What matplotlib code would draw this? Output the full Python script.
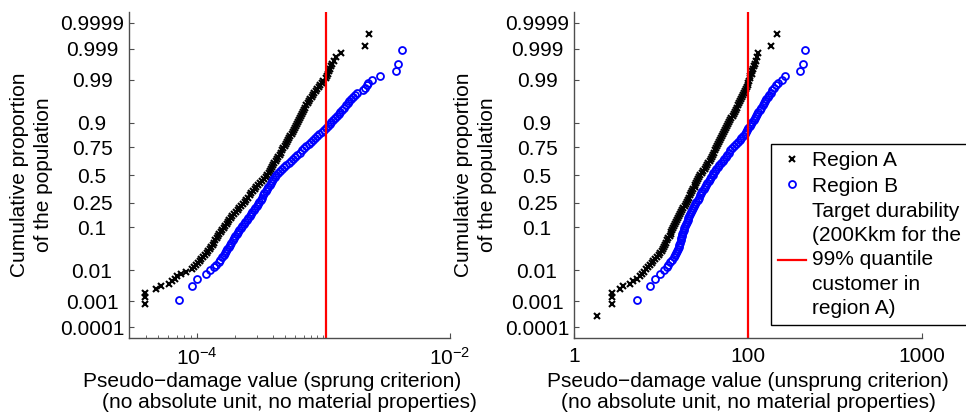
import numpy as np
import matplotlib
matplotlib.use('Agg')
import matplotlib.pyplot as plt
from statistics import NormalDist

plt.rcParams['font.family'] = ['Liberation Sans', 'DejaVu Sans']
plt.rcParams['mathtext.fontset'] = 'custom'
plt.rcParams['mathtext.rm'] = 'Liberation Sans'
plt.rcParams['mathtext.it'] = 'Liberation Sans:italic'
plt.rcParams['mathtext.bf'] = 'Liberation Sans:bold'
plt.rcParams['font.size'] = 15

# cumulative proportion (plotting position) of each plotted customer, region A
P_A = [0.00028, 0.00084, 0.0014, 0.002, 0.0026, 0.0033, 0.0039, 0.0047, 0.0055, 0.0066, 0.0078, 0.0091,
       0.0107, 0.0122, 0.0139, 0.0158, 0.0179, 0.0202, 0.0228, 0.0256, 0.0287, 0.0322,
       0.0359, 0.0401, 0.0446, 0.0495, 0.0548, 0.0606, 0.0668, 0.0735, 0.0808, 0.0885,
       0.0968, 0.1056, 0.1151, 0.1251, 0.1357, 0.1469, 0.1587, 0.1711, 0.1841, 0.1977,
       0.2119, 0.2266, 0.2420, 0.2578, 0.2743, 0.2912, 0.3085, 0.3264, 0.3446, 0.3632,
       0.3821, 0.4013, 0.4207, 0.4404, 0.4602, 0.4801, 0.5, 0.5199, 0.5398, 0.5596,
       0.5793, 0.5987, 0.6179, 0.6368, 0.6554, 0.6736, 0.6915, 0.7088, 0.7257, 0.7422,
       0.7580, 0.7734, 0.7881, 0.8023, 0.8159, 0.8289, 0.8413, 0.8531, 0.8643, 0.8749,
       0.8849, 0.8944, 0.9032, 0.9115, 0.9192, 0.9265, 0.9332, 0.9394, 0.9452, 0.9505,
       0.9554, 0.9599, 0.9641, 0.9678, 0.9713, 0.9744, 0.9772, 0.9798, 0.9821, 0.9842,
       0.9861, 0.9878, 0.9893,
       0.9909, 0.9922, 0.9934, 0.9945, 0.9953, 0.9961, 0.9967, 0.9974, 0.998, 0.9986, 0.99916, 0.99972]

# region B
P_B = [0.0011, 0.0033, 0.0055, 0.0077, 0.0099, 0.0121, 0.0143, 0.0166, 0.0192,
       0.0228, 0.0256, 0.0287, 0.0322, 0.0359, 0.0401, 0.0446, 0.0495, 0.0548, 0.0606,
       0.0668, 0.0735, 0.0808, 0.0885, 0.0968, 0.1056, 0.1151, 0.1251, 0.1357, 0.1469,
       0.1587, 0.1711, 0.1841, 0.1977, 0.2119, 0.2266, 0.2420, 0.2578, 0.2743, 0.2912,
       0.3085, 0.3264, 0.3446, 0.3632, 0.3821, 0.4013, 0.4207, 0.4404, 0.4602, 0.4801,
       0.5, 0.5199, 0.5398, 0.5596, 0.5793, 0.5987, 0.6179, 0.6368, 0.6554, 0.6736,
       0.6915, 0.7088, 0.7257, 0.7422, 0.7580, 0.7734, 0.7881, 0.8023, 0.8159, 0.8289,
       0.8413, 0.8531, 0.8643, 0.8749, 0.8849, 0.8944, 0.9032, 0.9115, 0.9192, 0.9265,
       0.9332, 0.9394, 0.9452, 0.9505, 0.9554, 0.9599, 0.9641, 0.9678, 0.9713, 0.9744,
       0.9772,
       0.9808, 0.9834, 0.9857, 0.9879, 0.9901, 0.9923, 0.9945, 0.9967, 0.9989]

# log10 of pseudo-damage, sprung criterion
A_SPRUNG_LOG = [-4.60, -4.409, -4.409, -4.405, -4.317, -4.278, -4.218, -4.191, -4.171, -4.150, -4.120, -4.080,
                -4.034, -4.020, -4.005, -3.990, -3.975, -3.962, -3.948, -3.933, -3.918, -3.907,
                -3.895, -3.884, -3.873, -3.862, -3.851, -3.841, -3.830, -3.819, -3.808, -3.797,
                -3.786, -3.774, -3.763, -3.752, -3.741, -3.729, -3.716, -3.702, -3.688, -3.675,
                -3.661, -3.647, -3.633, -3.620, -3.607, -3.594, -3.581, -3.568, -3.554, -3.541,
                -3.527, -3.512, -3.497, -3.482, -3.468, -3.455, -3.441, -3.430, -3.420, -3.412,
                -3.404, -3.396, -3.387, -3.376, -3.365, -3.354, -3.343, -3.333, -3.323, -3.314,
                -3.304, -3.295, -3.286, -3.277, -3.268, -3.259, -3.250, -3.241, -3.232, -3.223,
                -3.214, -3.206, -3.198, -3.190, -3.182, -3.174, -3.166, -3.158, -3.150, -3.142,
                -3.133, -3.123, -3.113, -3.102, -3.091, -3.080, -3.069, -3.058, -3.047, -3.037,
                -3.026, -3.013, -3.000,
                -2.982, -2.972, -2.965, -2.958, -2.950, -2.940, -2.932, -2.915, -2.896, -2.862, -2.669, -2.638]
B_SPRUNG_LOG = [-4.139, -4.034, -3.994, -3.929, -3.890, -3.864, -3.846, -3.824, -3.812,
                -3.797, -3.786, -3.776, -3.766, -3.756, -3.745, -3.735, -3.724, -3.714, -3.704,
                -3.694, -3.683, -3.672, -3.661, -3.650, -3.638, -3.627, -3.615, -3.604, -3.592,
                -3.581, -3.570, -3.559, -3.547, -3.536, -3.524, -3.513, -3.503, -3.493, -3.483,
                -3.474, -3.464, -3.455, -3.445, -3.435, -3.424, -3.414, -3.403, -3.393, -3.382,
                -3.372, -3.358, -3.344, -3.326, -3.309, -3.291, -3.274, -3.256, -3.239, -3.221,
                -3.204, -3.186, -3.169, -3.151, -3.134, -3.116, -3.099, -3.081, -3.064, -3.047,
                -3.030, -3.012, -2.995, -2.979, -2.963, -2.949, -2.935, -2.921, -2.907, -2.893,
                -2.879, -2.864, -2.850, -2.836, -2.822, -2.808, -2.794, -2.779, -2.765, -2.751,
                -2.737,
                -2.690, -2.668, -2.656, -2.645, -2.612, -2.550, -2.425, -2.412, -2.380]

# log10 of pseudo-damage, unsprung criterion
A_UNSPRUNG_LOG = [0.261, 0.433, 0.433, 0.433, 0.529, 0.559, 0.644, 0.682, 0.720, 0.755, 0.780, 0.800,
                  0.828, 0.849, 0.870, 0.891, 0.912, 0.934, 0.955, 0.975, 0.994, 1.007,
                  1.020, 1.033, 1.046, 1.059, 1.072, 1.086, 1.100, 1.110, 1.120, 1.130,
                  1.140, 1.150, 1.160, 1.171, 1.183, 1.195, 1.208, 1.220, 1.233, 1.245,
                  1.258, 1.271, 1.285, 1.297, 1.310, 1.322, 1.335, 1.347, 1.360, 1.372,
                  1.385, 1.395, 1.405, 1.415, 1.425, 1.436, 1.448, 1.467, 1.486, 1.500,
                  1.515, 1.530, 1.545, 1.558, 1.572, 1.584, 1.596, 1.608, 1.620, 1.631,
                  1.643, 1.655, 1.667, 1.678, 1.690, 1.702, 1.714, 1.726, 1.738, 1.750,
                  1.762, 1.774, 1.786, 1.798, 1.810, 1.822, 1.834, 1.846, 1.858, 1.869,
                  1.880, 1.892, 1.905, 1.917, 1.930, 1.941, 1.952, 1.963, 1.975, 1.985,
                  1.996, 2.003, 2.010,
                  2.018, 2.026, 2.040, 2.050, 2.062, 2.074, 2.085, 2.095, 2.103, 2.115, 2.261, 2.337]
B_UNSPRUNG_LOG = [0.721, 0.874, 0.931, 0.989, 1.038, 1.066, 1.085, 1.105, 1.125,
                  1.145, 1.160, 1.175, 1.185, 1.195, 1.204, 1.212, 1.220, 1.228, 1.234,
                  1.240, 1.246, 1.252, 1.260, 1.268, 1.276, 1.285, 1.295, 1.305, 1.315,
                  1.325, 1.335, 1.345, 1.356, 1.368, 1.380, 1.392, 1.406, 1.420, 1.434,
                  1.448, 1.462, 1.476, 1.490, 1.505, 1.519, 1.533, 1.548, 1.562, 1.577,
                  1.592, 1.603, 1.615, 1.635, 1.655, 1.672, 1.690, 1.707, 1.725, 1.742,
                  1.760, 1.777, 1.795, 1.817, 1.840, 1.862, 1.885, 1.905, 1.925, 1.942,
                  1.960, 1.975, 1.990, 2.005, 2.020, 2.035, 2.050, 2.065, 2.080, 2.092,
                  2.105, 2.120, 2.135, 2.152, 2.170, 2.180, 2.190, 2.210, 2.230, 2.245,
                  2.260,
                  2.280, 2.295, 2.320, 2.345, 2.385, 2.420, 2.598, 2.629, 2.655]

TARGET_SPRUNG = 1.06e-3
TARGET_UNSPRUNG = 100

Y_TICKS = [0.0001, 0.001, 0.01, 0.1, 0.25, 0.5, 0.75, 0.9, 0.99, 0.999, 0.9999]
Y_TICKLABELS = ['0.0001', '0.001', '0.01', '0.1', '0.25', '0.5', '0.75', '0.9', '0.99', '0.999', '0.9999']

YLABEL = 'Cumulative proportion\nof the population'
TARGET_LABEL = 'Target durability\n(200Kkm for the\n99% quantile\ncustomer in\nregion A)'

# normal probability scale for the y axis
_nd = NormalDist()
_ppf = np.vectorize(_nd.inv_cdf, otypes=[float])
_cdf = np.vectorize(_nd.cdf, otypes=[float])


def prob_fwd(p):
    p = np.clip(np.asarray(p, dtype=float), 1e-12, 1 - 1e-12)
    return _ppf(p)


def prob_inv(z):
    return _cdf(np.asarray(z, dtype=float))


fig = plt.figure(figsize=(9.66, 4.19), dpi=100)
ax1 = fig.add_axes([0.1335, 0.1933, 0.3323, 0.7780])
ax2 = fig.add_axes([0.5942, 0.1933, 0.3603, 0.7780])

panels = [
    (ax1, A_SPRUNG_LOG, B_SPRUNG_LOG, TARGET_SPRUNG,
     'Pseudo\u2212damage value (sprung criterion)      \n(no absolute unit, no material properties)'),
    (ax2, A_UNSPRUNG_LOG, B_UNSPRUNG_LOG, TARGET_UNSPRUNG,
     'Pseudo\u2212damage value (unsprung criterion)\n(no absolute unit, no material properties)'),
]

for ax, a_log, b_log, target, xlabel in panels:
    ax.plot(10 ** np.array(a_log), P_A, ls='none', marker='x', color='k',
            ms=4.2, mew=1.5, label='Region A')
    ax.plot(10 ** np.array(b_log), P_B, ls='none', marker='o', mfc='none',
            mec='#0000ff', ms=5.0, mew=1.3, label='Region B')
    ax.axvline(target, color='#ff0000', lw=1.6, label=TARGET_LABEL)

    ax.set_xscale('log')
    ax.set_yscale('function', functions=(prob_fwd, prob_inv))
    ax.set_ylim(3.4e-5, 1 - 3.4e-5)
    ax.set_yticks(Y_TICKS)
    ax.set_yticklabels(Y_TICKLABELS)
    ax.yaxis.set_minor_locator(plt.NullLocator())
    for lab in ax.get_yticklabels():
        lab.set_ha('center')

    for side in ['top', 'right']:
        ax.spines[side].set_visible(False)
    for side in ['left', 'bottom']:
        ax.spines[side].set_color('0.3')
        ax.spines[side].set_linewidth(1.0)

    ax.tick_params(which='both', direction='in', color='0.3', labelcolor='k')
    ax.tick_params(which='major', length=3.5, width=0.8)
    ax.tick_params(which='minor', length=2, width=0.6)
    ax.tick_params(axis='y', pad=26.6)
    ax.tick_params(axis='x', pad=6.5)

    ax.set_ylabel(YLABEL, linespacing=1.35, va='center')
    ax.set_xlabel(xlabel, linespacing=1.12, va='top')

# left panel x axis
ax1.set_xlim(10 ** -4.533, 1e-2)
ax1.set_xticks([1e-4, 1e-2])
ax1.set_xticklabels([r'$10^{-4}$', r'$10^{-2}$'])
ax1.set_xticks([4e-5, 5e-5, 6e-5, 7e-5, 8e-5, 9e-5, 2e-4, 3e-4, 4e-4, 5e-4, 6e-4, 7e-4, 8e-4, 9e-4, 1e-3],
               minor=True)
ax1.set_xticklabels([], minor=True)
ax1.yaxis.set_label_coords(-97.5 / 321, 0.5)
ax1.xaxis.set_label_coords(0.5, -34 / 326)

# right panel x axis
ax2.set_xlim(1, 1e4)
ax2.set_xticks([1, 100, 1e4])
ax2.set_xticklabels(['1', '100', '1000'])
ax2.xaxis.set_minor_locator(plt.NullLocator())
ax2.yaxis.set_label_coords(-98.5 / 348, 0.5)
ax2.xaxis.set_label_coords(0.5, -34 / 326)

leg = ax2.legend(loc='upper left', bbox_to_anchor=(771 / 966, 1 - 144 / 419),
                 bbox_transform=fig.transFigure, frameon=True, fancybox=False,
                 edgecolor='k', framealpha=1, borderpad=0.35, borderaxespad=0,
                 handlelength=1.33, handletextpad=0.3, labelspacing=0.3, fontsize=15)
leg.get_frame().set_linewidth(1.0)
for t in leg.get_texts():
    t.set_linespacing(1.35)

fig.savefig('out.png', dpi=100)
